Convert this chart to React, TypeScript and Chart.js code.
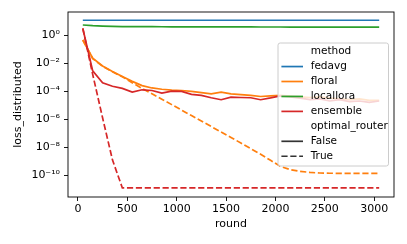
import React, { useEffect, useRef } from "react";
import { Chart, registerables } from "chart.js";

Chart.register(...registerables);

const rounds = [50, 150, 250, 350, 450, 550, 650, 750, 850, 950, 1050, 1150, 1250, 1350, 1450, 1550, 1650, 1750, 1850, 1950, 2050, 2150, 2250, 2350, 2450, 2550, 2650, 2750, 2850, 2950, 3050];

const methods = ["fedavg", "floral", "locallora", "ensemble"];
const methodColors = ["#1f77b4", "#ff7f0e", "#2ca02c", "#d62728"];
const routerValues = ["False", "True"];

const fedavgFalse = [11.5, 11.5, 11.5, 11.5, 11.5, 11.5, 11.5, 11.5, 11.5, 11.5, 11.5, 11.5, 11.5, 11.5, 11.5, 11.5, 11.5, 11.5, 11.5, 11.5, 11.5, 11.5, 11.5, 11.5, 11.5, 11.5, 11.5, 11.5, 11.5, 11.5, 11.5];
const floralFalse = [0.45, 0.0224, 6.31e-3, 2.51e-3, 1.12e-3, 5.01e-4, 2.51e-4, 1.7e-4, 1.38e-4, 1.2e-4, 1.12e-4, 9.55e-5, 7.94e-5, 6.46e-5, 8.51e-5, 6.46e-5, 5.75e-5, 5.01e-5, 4.17e-5, 4.68e-5, 5.01e-5, 4.47e-5, 3.98e-5, 3.55e-5, 3.98e-5, 3.16e-5, 2.82e-5, 2.51e-5, 2.82e-5, 2.24e-5, 2.24e-5];
const floralTrue = [0.45, 2.1e-2, 6.0e-3, 2.4e-3, 1.07e-3, 3.98e-4, 1.58e-4, 6.61e-5, 2.69e-5, 1.1e-5, 4.47e-6, 1.82e-6, 7.41e-7, 3.02e-7, 1.23e-7, 5.01e-8, 2.0e-8, 7.94e-9, 3.16e-9, 1.17e-9, 4.3e-10, 2.51e-10, 1.9e-10, 1.6e-10, 1.45e-10, 1.4e-10, 1.38e-10, 1.38e-10, 1.38e-10, 1.38e-10, 1.38e-10];
const localloraFalse = [5.3, 4.7, 4.4, 4.2, 4.1, 4.05, 4.0, 3.98, 3.96, 3.94, 3.92, 3.9, 3.88, 3.86, 3.85, 3.84, 3.83, 3.82, 3.81, 3.8, 3.79, 3.78, 3.77, 3.76, 3.75, 3.74, 3.73, 3.72, 3.71, 3.7, 3.7];
const ensembleFalse = [3.0, 2.82e-3, 3.98e-4, 2.24e-4, 1.58e-4, 8.51e-5, 1.26e-4, 1.12e-4, 7.24e-5, 1.0e-4, 9.55e-5, 5.89e-5, 5.01e-5, 3.39e-5, 2.45e-5, 3.72e-5, 3.55e-5, 3.39e-5, 2.45e-5, 3.31e-5, 4.68e-5, 3.98e-5, 3.16e-5, 2.51e-5, 2.82e-5, 2.0e-5, 2.51e-5, 1.78e-5, 2.0e-5, 1.58e-5, 2.0e-5];
const ensembleTrue = [3.0, 1.58e-3, 1.26e-6, 1.26e-9, 1.25e-11, 1.25e-11, 1.25e-11, 1.25e-11, 1.25e-11, 1.25e-11, 1.25e-11, 1.25e-11, 1.25e-11, 1.25e-11, 1.25e-11, 1.25e-11, 1.25e-11, 1.25e-11, 1.25e-11, 1.25e-11, 1.25e-11, 1.25e-11, 1.25e-11, 1.25e-11, 1.25e-11, 1.25e-11, 1.25e-11, 1.25e-11, 1.25e-11, 1.25e-11, 1.25e-11];

const xTicks = [0, 500, 1000, 1500, 2000, 2500, 3000];
const yTicks = [1e0, 1e-2, 1e-4, 1e-6, 1e-8, 1e-10];
const yTickLabels = ["10⁰", "10⁻²", "10⁻⁴", "10⁻⁶", "10⁻⁸", "10⁻¹⁰"];

const FONT = "DejaVu Sans";
const LW = 1.7;
const DASH = [6.2, 2.7];

const series = [
  { method: 0, router: 0, values: fedavgFalse },
  { method: 1, router: 0, values: floralFalse },
  { method: 1, router: 1, values: floralTrue },
  { method: 2, router: 0, values: localloraFalse },
  { method: 3, router: 0, values: ensembleFalse },
  { method: 3, router: 1, values: ensembleTrue },
];

const framePlugin = {
  id: "frame",
  afterDraw(chart: any) {
    const { ctx, chartArea } = chart;
    const { left, top, right, bottom } = chartArea;
    ctx.save();
    ctx.strokeStyle = "#000";
    ctx.lineWidth = 0.9;
    ctx.strokeRect(left, top, right - left, bottom - top);
    ctx.restore();

    // legend
    const w = 110.5;
    const h = 123;
    const x0 = right - 5.5 - w;
    const y0 = (top + bottom) / 2 - h / 2;
    ctx.save();
    ctx.beginPath();
    const r = 2.2;
    ctx.moveTo(x0 + r, y0);
    ctx.arcTo(x0 + w, y0, x0 + w, y0 + h, r);
    ctx.arcTo(x0 + w, y0 + h, x0, y0 + h, r);
    ctx.arcTo(x0, y0 + h, x0, y0, r);
    ctx.arcTo(x0, y0, x0 + w, y0, r);
    ctx.closePath();
    ctx.fillStyle = "rgba(255,255,255,0.8)";
    ctx.fill();
    ctx.strokeStyle = "#cccccc";
    ctx.lineWidth = 1;
    ctx.stroke();

    type Row = { text: string; color?: string; dash?: number[] };
    const rows: Row[] = [{ text: "method" }];
    methods.forEach((m, i) => rows.push({ text: m, color: methodColors[i], dash: [] }));
    rows.push({ text: "optimal_router" });
    routerValues.forEach((v, i) => rows.push({ text: v, color: "#333333", dash: i === 1 ? DASH : [] }));

    ctx.font = `10.5px "${FONT}"`;
    ctx.textBaseline = "middle";
    ctx.textAlign = "left";
    rows.forEach((row, i) => {
      const cy = y0 + 8.6 + i * 14.95;
      if (row.color) {
        ctx.beginPath();
        ctx.setLineDash(row.dash || []);
        ctx.strokeStyle = row.color;
        ctx.lineWidth = LW;
        ctx.moveTo(x0 + 3.4, cy);
        ctx.lineTo(x0 + 25, cy);
        ctx.stroke();
        ctx.setLineDash([]);
      }
      ctx.fillStyle = "#000";
      ctx.fillText(row.text, x0 + 32.7, cy);
    });
    ctx.restore();
  },
};

export default function App() {
  const ref = useRef<HTMLCanvasElement | null>(null);
  useEffect(() => {
    if (!ref.current) return;
    const datasets = series.map((s, idx) => ({
      label: `${methods[s.method]} ${routerValues[s.router]}`,
      data: rounds.map((r, i) => ({ x: r, y: s.values[i] })),
      borderColor: methodColors[s.method],
      backgroundColor: methodColors[s.method],
      borderWidth: LW,
      borderDash: s.router === 1 ? DASH : [],
      pointRadius: 0,
      fill: false,
      tension: 0,
      order: series.length - idx,
    }));
    const tickFont = { family: FONT, size: 11 };
    const chart = new Chart(ref.current, {
      type: "line",
      data: { datasets },
      options: {
        animation: false,
        responsive: false,
        devicePixelRatio: 1,
        layout: { padding: { top: 12, right: 13, left: 0, bottom: 0 } },
        plugins: { legend: { display: false }, tooltip: { enabled: false } },
        scales: {
          x: {
            type: "linear",
            min: -100,
            max: 3200,
            afterBuildTicks: (s: any) => {
              s.ticks = xTicks.map((v) => ({ value: v }));
            },
            afterFit: (s: any) => {
              s.height = 47;
            },
            ticks: {
              font: tickFont,
              color: "#000",
              padding: 2,
              maxRotation: 0,
              autoSkip: false,
              callback: (v: any) => String(v),
            },
            grid: { display: true, drawOnChartArea: false, drawTicks: true, tickLength: 4, color: "#000", lineWidth: 0.9 },
            border: { display: false },
            title: { display: true, text: "round", font: tickFont, color: "#000", padding: { top: 0, bottom: 13.4 } },
          },
          y: {
            type: "logarithmic",
            min: Math.pow(10, -11.55),
            max: Math.pow(10, 1.65),
            afterBuildTicks: (s: any) => {
              s.ticks = yTicks.map((v) => ({ value: v }));
            },
            afterFit: (s: any) => {
              s.width = 68;
            },
            ticks: {
              font: tickFont,
              color: "#000",
              padding: 4,
              autoSkip: false,
              callback: (v: any) => {
                const i = yTicks.findIndex((t) => Math.abs(Math.log10(t) - Math.log10(v)) < 1e-6);
                return i >= 0 ? yTickLabels[i] : "";
              },
            },
            grid: { display: true, drawOnChartArea: false, drawTicks: true, tickLength: 4, color: "#000", lineWidth: 0.9 },
            border: { display: false },
            title: { display: true, text: "loss_distributed", font: tickFont, color: "#000", padding: { top: 11.4, bottom: 0 } },
          },
        },
      } as any,
      plugins: [framePlugin],
    });
    return () => chart.destroy();
  }, []);
  return (
    <div style={{ position: "absolute", left: 0, top: 0, width: 407, height: 244, background: "#fff" }}>
      <canvas ref={ref} width={407} height={244} style={{ display: "block" }} />
    </div>
  );
}
